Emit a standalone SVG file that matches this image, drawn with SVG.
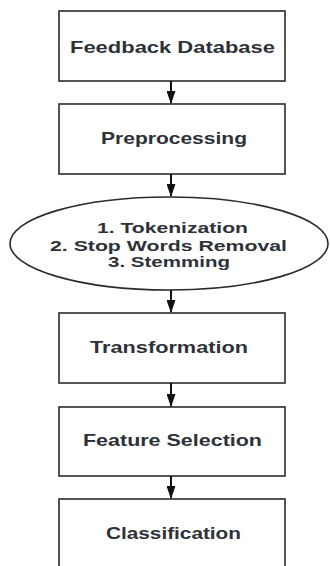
<svg xmlns="http://www.w3.org/2000/svg" width="330" height="566" viewBox="0 0 330 566">
<style>
.box{fill:#fff;stroke:#2b2b2b;stroke-width:1.6}
.t{font-family:"Liberation Sans",Arial,sans-serif;font-weight:bold;font-size:17px;fill:#2e3238;text-anchor:middle}
.e{font-size:15.5px}
.c{stroke:#111;stroke-width:2;fill:none}
</style>
<defs>
<marker id="ah" markerWidth="6.5" markerHeight="4.5" refX="6" refY="2.25" orient="auto" markerUnits="strokeWidth">
<path d="M0,0 L6.5,2.25 L0,4.5 Z" fill="#111"/>
</marker>
</defs>
<rect width="330" height="566" fill="#fff"/>
<g id="n1"><rect class="box" x="59" y="11" width="226" height="70"/><text class="t" x="172.5" y="53" textLength="205" lengthAdjust="spacingAndGlyphs">Feedback Database</text></g>
<g id="n2"><rect class="box" x="59" y="104" width="226" height="70"/><text class="t" x="174" y="144" textLength="146" lengthAdjust="spacingAndGlyphs">Preprocessing</text></g>
<g id="n3"><ellipse class="box" cx="169" cy="243.5" rx="159" ry="46.5"/>
<text class="t e" x="172.5" y="233" textLength="151" lengthAdjust="spacingAndGlyphs">1. Tokenization</text>
<text class="t e" x="168.5" y="251" textLength="237" lengthAdjust="spacingAndGlyphs">2. Stop Words Removal</text>
<text class="t e" x="169" y="267" textLength="122" lengthAdjust="spacingAndGlyphs">3. Stemming</text></g>
<g id="n4"><rect class="box" x="59" y="313" width="226" height="70"/><text class="t" x="169" y="353" textLength="158" lengthAdjust="spacingAndGlyphs">Transformation</text></g>
<g id="n5"><rect class="box" x="59" y="407" width="226" height="69"/><text class="t" x="172.5" y="446" textLength="179" lengthAdjust="spacingAndGlyphs">Feature Selection</text></g>
<g id="n6"><rect class="box" x="59" y="499" width="226" height="80"/><text class="t" x="173.5" y="539" textLength="135" lengthAdjust="spacingAndGlyphs">Classification</text></g>
<g id="connectors">
<line class="c" x1="171" y1="81" x2="171" y2="103" marker-end="url(#ah)"/>
<line class="c" x1="171" y1="174" x2="171" y2="196" marker-end="url(#ah)"/>
<line class="c" x1="171" y1="290" x2="171" y2="312" marker-end="url(#ah)"/>
<line class="c" x1="171" y1="383" x2="171" y2="406" marker-end="url(#ah)"/>
<line class="c" x1="171" y1="476" x2="171" y2="498" marker-end="url(#ah)"/>
</g>
</svg>
